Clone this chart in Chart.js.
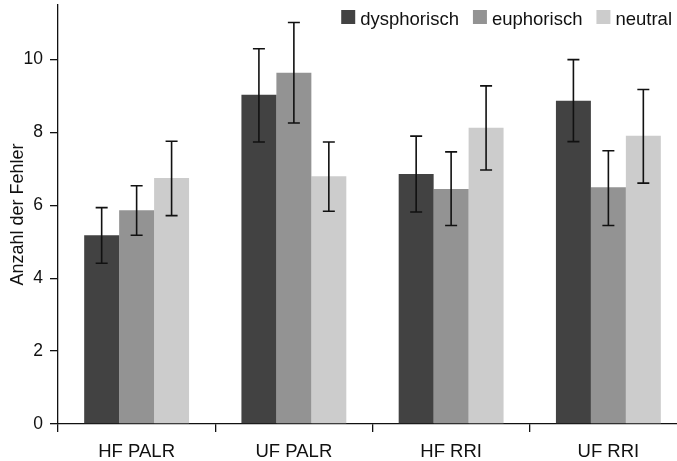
<!DOCTYPE html>
<html>
<head>
<meta charset="utf-8">
<script src="https://cdn.jsdelivr.net/npm/chart.js@4/dist/chart.umd.min.js"></script>
<style>
  html, body { margin: 0; padding: 0; background: #fff; }
  #wrap { width: 677px; height: 461px; overflow: hidden; position: relative; }
</style>
</head>
<body>
<div id="wrap"><canvas id="myChart" width="690" height="461"></canvas></div>
<script>
// Daten
var categories = ['HF PALR', 'UF PALR', 'HF RRI', 'UF RRI'];
var yTicks = [0, 2, 4, 6, 8, 10];

var dysphorisch = [5.18, 9.04, 6.86, 8.87];
var dysphorischLo = [4.41, 7.74, 5.82, 7.75];
var dysphorischHi = [5.94, 10.30, 7.90, 10.00];

var euphorisch = [5.87, 9.64, 6.45, 6.50];
var euphorischLo = [5.18, 8.26, 5.45, 5.45];
var euphorischHi = [6.54, 11.02, 7.47, 7.50];

var neutral = [6.75, 6.80, 8.13, 7.91];
var neutralLo = [5.72, 5.84, 6.97, 6.61];
var neutralHi = [7.76, 7.74, 9.28, 9.18];

var fontFamily = '"Liberation Sans", Arial, Helvetica, sans-serif';

// Fehlerbalken
var errorBars = {
    id: 'errorBars',
    afterDatasetsDraw: function (chart) {
        var ctx = chart.ctx;
        var y = chart.scales.y;
        ctx.save();
        ctx.strokeStyle = '#111';
        ctx.lineWidth = 1.6;
        chart.data.datasets.forEach(function (ds, i) {
            var meta = chart.getDatasetMeta(i);
            meta.data.forEach(function (bar, j) {
                var top = y.getPixelForValue(ds.errHi[j]);
                var bottom = y.getPixelForValue(ds.errLo[j]);
                ctx.beginPath();
                ctx.moveTo(bar.x, top);
                ctx.lineTo(bar.x, bottom);
                ctx.moveTo(bar.x - 6, top);
                ctx.lineTo(bar.x + 6, top);
                ctx.moveTo(bar.x - 6, bottom);
                ctx.lineTo(bar.x + 6, bottom);
                ctx.stroke();
            });
        });
        ctx.restore();
    }
};

// Legende oben rechts im Diagrammbereich
var floatLegend = {
    id: 'floatLegend',
    afterDraw: function (chart) {
        var ctx = chart.ctx;
        ctx.save();
        ctx.font = '18.5px ' + fontFamily;
        ctx.textBaseline = 'alphabetic';
        var x = 672;
        var items = chart.data.datasets.slice().reverse();
        items.forEach(function (ds) {
            var w = ctx.measureText(ds.label).width;
            var tx = x - w;
            ctx.fillStyle = '#111';
            ctx.fillText(ds.label, tx, 25);
            ctx.fillStyle = ds.backgroundColor;
            ctx.fillRect(tx - 5 - 14, 10, 14, 14);
            x = tx - 5 - 14 - 14;
        });
        ctx.restore();
    }
};

var ctx = document.getElementById('myChart').getContext('2d');
var myChart = new Chart(ctx, {
    type: 'bar',
    data: {
        labels: categories,
        datasets: [{
            label: 'dysphorisch',
            data: dysphorisch,
            errLo: dysphorischLo,
            errHi: dysphorischHi,
            backgroundColor: '#424242'
        }, {
            label: 'euphorisch',
            data: euphorisch,
            errLo: euphorischLo,
            errHi: euphorischHi,
            backgroundColor: '#939393'
        }, {
            label: 'neutral',
            data: neutral,
            errLo: neutralLo,
            errHi: neutralHi,
            backgroundColor: '#cccccc'
        }]
    },
    options: {
        responsive: false,
        animation: false,
        layout: { padding: { left: 0, top: 5, right: 3, bottom: 0 } },
        datasets: { bar: { categoryPercentage: 0.667, barPercentage: 1.0, borderWidth: 0 } },
        plugins: {
            legend: { display: false },
            tooltip: { enabled: false }
        },
        scales: {
            x: {
                grid: { offset: true, drawOnChartArea: false, color: '#111', tickLength: 8, lineWidth: 1.3 },
                border: { color: '#111', width: 1.3 },
                ticks: { color: '#111', font: { family: fontFamily, size: 18.5 }, padding: 9, maxRotation: 0 },
                afterFit: function (scale) { scale.height = 37; }
            },
            y: {
                min: 0,
                max: 11.5,
                afterBuildTicks: function (scale) {
                    scale.ticks = yTicks.map(function (v) { return { value: v }; });
                },
                grid: { drawOnChartArea: false, color: '#111', tickLength: 8, lineWidth: 1.3 },
                border: { color: '#111', width: 1.3 },
                ticks: { color: '#111', font: { family: fontFamily, size: 17.5 }, padding: 7 },
                title: {
                    display: true,
                    text: 'Anzahl der Fehler',
                    color: '#111',
                    font: { family: fontFamily, size: 18 },
                    padding: { top: 7, bottom: 0 }
                },
                afterFit: function (scale) {
                    scale.width = 58;
                    scale.paddingTop = 0;
                    scale.paddingBottom = 0;
                }
            }
        }
    },
    plugins: [errorBars, floatLegend]
});
</script>
</body>
</html>
